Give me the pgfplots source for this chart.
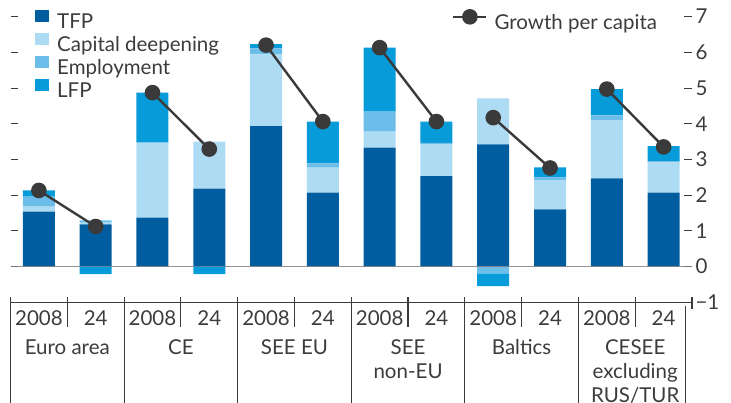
\documentclass[border=0pt]{standalone}
\usepackage{fontspec}
\setmainfont{Lato}
\usepackage{pgfplots}
\usepackage{pgfplotstable}
\pgfplotsset{compat=1.18}
\definecolor{tfp}{HTML}{005DA0}
\definecolor{cap}{HTML}{ADDBF3}
\definecolor{emp}{HTML}{6DBDEA}
\definecolor{lfp}{HTML}{079CD9}
\definecolor{grw}{HTML}{3A3A3A}
\definecolor{txt}{HTML}{3C3C3C}
\newcommand\f{\fontsize{20.5}{24}\selectfont}

\pgfplotstableread{
x tfp cap emp lfp
0 1.54 0.14 0.28 0.17
1 1.18 0.05 0.06 0
2 1.37 2.10 0 1.40
3 2.18 1.32 0 0
4 3.93 2.01 0.17 0.12
5 2.07 0.70 0.12 1.17
6 3.33 0.45 0.56 1.79
7 2.53 0.90 0.03 0.60
8 3.42 1.29 0 0
9 1.60 0.82 0.08 0.28
10 2.47 1.63 0.13 0.74
11 2.07 0.85 0.03 0.42
}\tpos
\pgfplotstableread{
x emp lfp
0 0 0
1 0 -0.21
2 0 0
3 0 -0.21
4 0 0
5 0 0
6 0 0
7 0 0
8 -0.19 -0.36
9 0 0
10 0 0
11 0 0
}\tneg
\pgfplotstableread{
x g
0 2.13
1 1.12
1.5 nan
2 4.87
3 3.29
3.5 nan
4 6.20
5 4.06
5.5 nan
6 6.13
7 4.06
7.5 nan
8 4.17
9 2.76
9.5 nan
10 4.97
11 3.35
}\tgrow

\pgfplotsset{base/.style={
  scale only axis, width=681.5pt, height=285.6pt,
  xmin=-0.5, xmax=11.5, ymin=-1, ymax=7,
  axis line style={draw=none}, clip=false,
  xtick=\empty, ytick=\empty,
  every axis/.append style={font=\f},
},
sq/.style={legend image code/.code={\fill[##1,draw=none] (0pt,1.5pt) rectangle (13.5pt,13.5pt);}},
gl/.style={legend image code/.code={\draw[##1, mark repeat=2, mark phase=2] plot coordinates {(0pt,7.3pt)(16.5pt,7.3pt)(33pt,7.3pt)};}},
}

\begin{document}
\begin{tikzpicture}
\begin{axis}[base, ybar stacked, bar width=32pt,
  ytick={-1,0,...,7}, yticklabels={−1,0,1,2,3,4,5,6,7},
  ytick pos=both, yticklabel pos=right,
  major tick length=8pt, tick style={draw=txt, line width=1pt},
  xtick={0,...,11},
  xticklabels={2008,24,2008,24,2008,24,2008,24,2008,24,2008,24},
  x tick style={draw=none},
  xticklabel style={yshift=-5pt, text=txt},
  yticklabel style={text=txt},
  legend cell align=left,
  legend style={draw=none, fill=none, at={(axis cs:-0.5,7)}, anchor=north west,
    xshift=24.5pt, yshift=6.6pt, inner sep=0pt, row sep=-0.6pt,
    nodes={inner sep=0pt, text height=15pt, text depth=5pt, text=txt},
    /tikz/every odd column/.append style={column sep=8.5pt}},
]
\addplot[fill=tfp, draw=none, sq] table[x=x, y=tfp] {\tpos};
\addlegendentry{TFP}
\addplot[fill=cap, draw=none, sq] table[x=x, y=cap] {\tpos};
\addlegendentry{Capital deepening}
\addplot[fill=emp, draw=none, sq] table[x=x, y=emp] {\tpos};
\addlegendentry{Employment}
\addplot[fill=lfp, draw=none, sq] table[x=x, y=lfp] {\tpos};
\addlegendentry{LFP}
\end{axis}

\begin{axis}[base, ybar stacked, bar width=32pt]
\addplot[fill=emp, draw=none] table[x=x, y=emp] {\tneg};
\addplot[fill=lfp, draw=none] table[x=x, y=lfp] {\tneg};
\draw[color=black!50, line width=1.6pt, opacity=0.85] (axis cs:-0.5,0) -- (axis cs:11.5,0);
\draw[color=txt, line width=1.3pt] (axis cs:-0.5,-1) -- (axis cs:11.5,-1);
\pgfplotsinvokeforeach{-0.5,1.5,3.5,5.5,7.5,9.5}{
  \draw[color=txt, line width=1.1pt] (axis cs:#1,-0.86) -- (axis cs:#1,-4);
}
\pgfplotsinvokeforeach{0.5,2.5,4.5,6.5,8.5,10.5}{
  \draw[color=txt, line width=1.1pt] (axis cs:#1,-0.86) -- (axis cs:#1,-1.7);
}
\draw[color=txt, line width=1.1pt] (axis cs:11.5,-0.86) -- (axis cs:11.5,-1.2);
\draw[color=txt, line width=1.1pt] (axis cs:11.38,-1.1) -- (axis cs:11.38,-4);
\node[font=\f, text=txt, align=center, anchor=base, inner sep=0pt] at (axis cs:0.5,-2.465) {Euro area};
\node[font=\f, text=txt, align=center, anchor=base, inner sep=0pt] at (axis cs:2.5,-2.465) {CE};
\node[font=\f, text=txt, align=center, anchor=base, inner sep=0pt] at (axis cs:4.5,-2.465) {SEE EU};
\node[font=\f, text=txt, align=center, anchor=base, inner sep=0pt] at (axis cs:6.5,-3.137) {SEE\\non-EU};
\node[font=\f, text=txt, align=center, anchor=base, inner sep=0pt] at (axis cs:8.5,-2.465) {Baltics};
\node[font=\f, text=txt, align=center, anchor=base, inner sep=0pt] at (axis cs:10.5,-3.809) {CESEE\\excluding\\RUS/TUR};
\end{axis}

\begin{axis}[base,
  legend style={draw=none, fill=none, at={(axis cs:-0.5,7)}, anchor=north west,
    xshift=441.5pt, yshift=6.6pt, inner sep=0pt,
    nodes={inner sep=0pt, text height=15pt, text depth=5pt, text=txt},
    /tikz/every odd column/.append style={column sep=7pt}},
]
\addplot[color=grw, line width=2.4pt, mark=*, mark size=6.6pt,
  mark options={fill=grw, draw=none}, unbounded coords=jump, gl]
  table[x=x, y=g] {\tgrow};
\addlegendentry{Growth per capita}
\end{axis}
\pgfresetboundingbox
\useasboundingbox (-10.5pt,-100pt) rectangle (720.5pt,302.2pt);
\end{tikzpicture}
\end{document}
